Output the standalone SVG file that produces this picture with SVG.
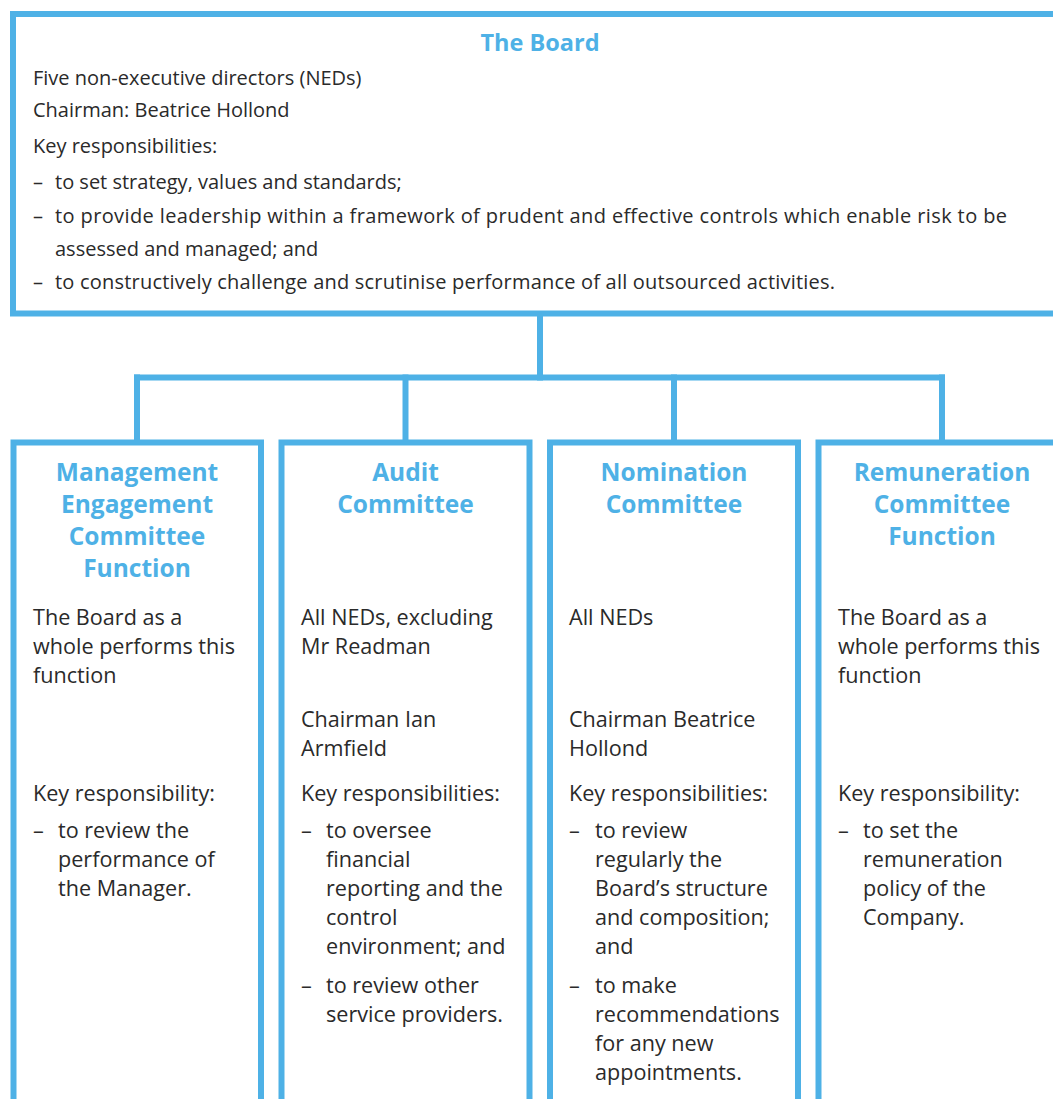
<svg xmlns="http://www.w3.org/2000/svg" width="1053" height="1099" viewBox="0 0 1053 1099">
<style>
.box{fill:none;stroke:#4eb1e6;stroke-width:6}
.con{fill:none;stroke:#4eb1e6;stroke-width:6;stroke-linecap:square}
.t{font-family:"Open Sans","Noto Sans",sans-serif;fill:#2a2a2a}
.tb{font-size:20px}
.tc{font-size:21.6px}
.h{font-family:"Open Sans","Noto Sans",sans-serif;font-weight:bold;fill:#4eb1e6;text-anchor:middle}
.ht{font-size:23.5px}
.hc{font-size:24.5px}
</style>
<rect width="1053" height="1099" fill="#ffffff"/>
<g id="connectors">
<path class="con" d="M540,317 V377.5"/>
<path class="con" d="M137,377.5 H942"/>
<path class="con" d="M137,377.5 V440"/>
<path class="con" d="M405.5,377.5 V440"/>
<path class="con" d="M674,377.5 V440"/>
<path class="con" d="M942,377.5 V440"/>
</g>
<g id="board">
<path class="box" d="M1070,14 H13 V313.5 H1070"/>
<text class="h ht" x="540" y="51">The Board</text>
<g class="t tb">
<text x="33" y="85">Five non-executive directors (NEDs)</text>
<text x="33" y="117">Chairman: Beatrice Hollond</text>
<text x="33" y="153">Key responsibilities:</text>
<text x="33" y="189">–</text><text x="55" y="189">to set strategy, values and standards;</text>
<text x="33" y="223">–</text><text x="55" y="223" textLength="952">to provide leadership within a framework of prudent and effective controls which enable risk to be</text>
<text x="55" y="256">assessed and managed; and</text>
<text x="33" y="289">–</text><text x="55" y="289" textLength="780">to constructively challenge and scrutinise performance of all outsourced activities.</text>
</g>
</g>
<g id="management">
<path class="box" d="M13.5,1110 V442.5 H261 V1110"/>
<text class="h hc" x="137" y="481">Management</text>
<text class="h hc" x="137" y="513">Engagement</text>
<text class="h hc" x="137" y="545">Committee</text>
<text class="h hc" x="137" y="577">Function</text>
<g class="t tc">
<text x="33" y="625">The Board as a</text>
<text x="33" y="654">whole performs this</text>
<text x="33" y="683">function</text>
<text x="33" y="801">Key responsibility:</text>
<text x="33" y="838">–</text><text x="58" y="838">to review the</text>
<text x="58" y="867">performance of</text>
<text x="58" y="896">the Manager.</text>
</g>
</g>
<g id="audit">
<path class="box" d="M281.5,1110 V442.5 H529.5 V1110"/>
<text class="h hc" x="405.5" y="481">Audit</text>
<text class="h hc" x="405.5" y="513">Committee</text>
<g class="t tc">
<text x="301" y="625">All NEDs, excluding</text>
<text x="301" y="654">Mr Readman</text>
<text x="301" y="727">Chairman Ian</text>
<text x="301" y="756">Armfield</text>
<text x="301" y="801">Key responsibilities:</text>
<text x="301" y="838">–</text><text x="326" y="838">to oversee</text>
<text x="326" y="867">financial</text>
<text x="326" y="896">reporting and the</text>
<text x="326" y="925">control</text>
<text x="326" y="954">environment; and</text>
<text x="301" y="993">–</text><text x="326" y="993">to review other</text>
<text x="326" y="1022">service providers.</text>
</g>
</g>
<g id="nomination">
<path class="box" d="M550,1110 V442.5 H798 V1110"/>
<text class="h hc" x="674" y="481">Nomination</text>
<text class="h hc" x="674" y="513">Committee</text>
<g class="t tc">
<text x="569" y="625">All NEDs</text>
<text x="569" y="727">Chairman Beatrice</text>
<text x="569" y="756">Hollond</text>
<text x="569" y="801">Key responsibilities:</text>
<text x="569" y="838">–</text><text x="595" y="838">to review</text>
<text x="595" y="867">regularly the</text>
<text x="595" y="896">Board’s structure</text>
<text x="595" y="925">and composition;</text>
<text x="595" y="954">and</text>
<text x="569" y="993">–</text><text x="595" y="993">to make</text>
<text x="595" y="1022">recommendations</text>
<text x="595" y="1051">for any new</text>
<text x="595" y="1080">appointments.</text>
</g>
</g>
<g id="remuneration">
<path class="box" d="M818.5,1110 V442.5 H1070"/>
<text class="h hc" x="942" y="481">Remuneration</text>
<text class="h hc" x="942" y="513">Committee</text>
<text class="h hc" x="942" y="545">Function</text>
<g class="t tc">
<text x="838" y="625">The Board as a</text>
<text x="838" y="654">whole performs this</text>
<text x="838" y="683">function</text>
<text x="838" y="801">Key responsibility:</text>
<text x="838" y="838">–</text><text x="863" y="838">to set the</text>
<text x="863" y="867">remuneration</text>
<text x="863" y="896">policy of the</text>
<text x="863" y="925">Company.</text>
</g>
</g>
</svg>
